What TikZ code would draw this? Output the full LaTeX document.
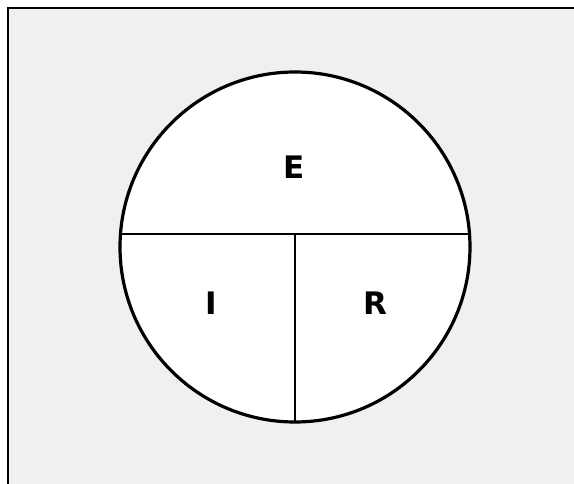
\documentclass[tikz,border=0pt]{standalone}
\usepackage{fontspec}
\setmainfont{DejaVu Sans}
\usepackage{tikz}

\begin{document}
\begin{tikzpicture}[x=1pt, y=-1pt, every node/.style={font=\bfseries\fontsize{31}{31}\selectfont}]
    \useasboundingbox (0, 0) rectangle (574, 484);
    % Background panel
    \fill[white] (0, 0) rectangle (574, 484);
    \draw[line width=2.6pt, fill={rgb,255:red,240;green,240;blue,240}] (8, 8) rectangle (590, 500);

    % Circle and its parts
    \coordinate (ctr) at (295, 247);
    \draw[line width=3.2pt, fill=white] (ctr) circle (175);
    \coordinate (lw) at (121, 234);
    \coordinate (le) at (469, 234);
    \coordinate (mid) at (295, 234);
    \coordinate (bot) at (295, 422);
    \draw[line width=2.2pt] (lw) -- (le);
    \draw[line width=2.2pt] (mid) -- (bot);

    \node (e) at (294, 167) {E};
    \node (i) at (211, 303) {I};
    \node (r) at (375, 303) {R};
\end{tikzpicture}
\end{document}
